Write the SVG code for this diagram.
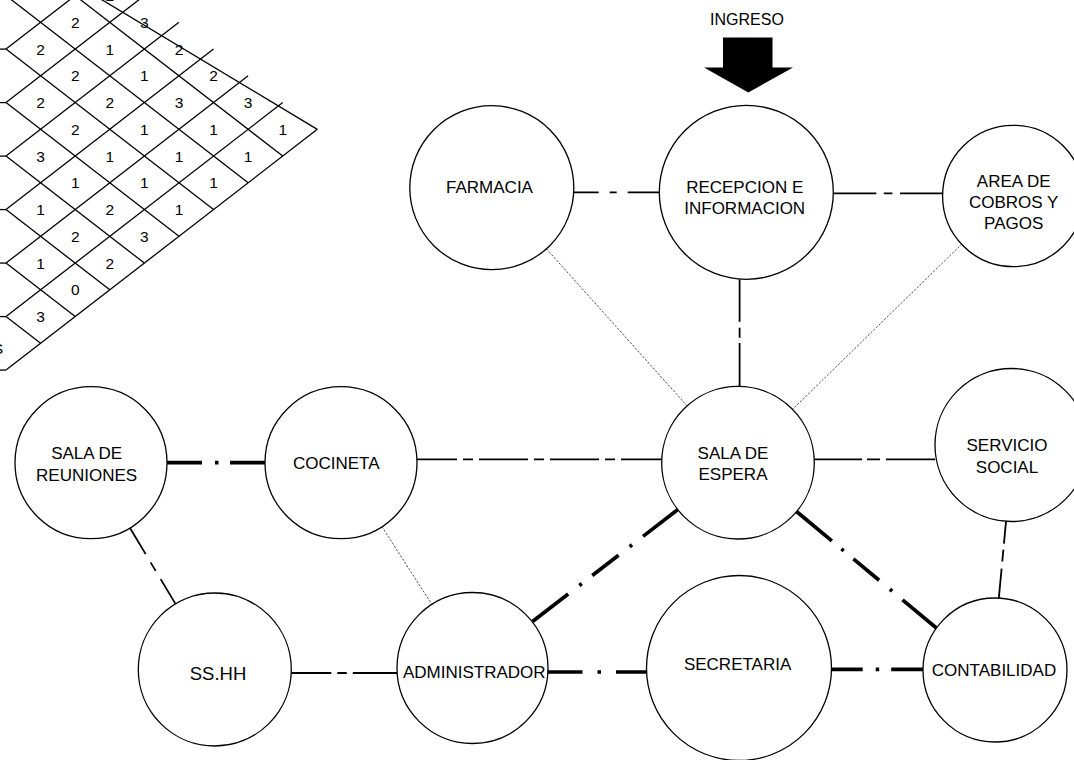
<svg xmlns="http://www.w3.org/2000/svg" width="1074" height="760" viewBox="0 0 1074 760">
<style>
  .bg{fill:#fff}
  .mx line{stroke:#000;stroke-width:1.3;fill:none}
  .num{font-family:"Liberation Sans",Arial,sans-serif;font-size:15.5px;text-anchor:middle;fill:#000}
  .node circle{fill:#fff;stroke:#000;stroke-width:1.3}
  .node text,.lbl{font-family:"Liberation Sans",Arial,sans-serif;font-size:17px;text-anchor:middle;fill:#000}
  .conn path{fill:none;stroke:#000;stroke-linecap:butt}
  .thin{stroke-width:0.7;stroke-dasharray:2.2 1.6}
  .med{stroke-width:1.8}
  .thick{stroke-width:3.7}
</style>
<rect class="bg" x="0" y="0" width="1074" height="760"/>

<g id="matrix" class="mx">
  <line x1="6" y1="-57.92" x2="317.31" y2="129.33"/>
  <line x1="6" y1="-57.92" x2="282.72" y2="156.08"/>
  <line x1="6" y1="-4.42" x2="248.13" y2="182.83"/>
  <line x1="6" y1="49.08" x2="213.54" y2="209.58"/>
  <line x1="6" y1="102.58" x2="178.95" y2="236.33"/>
  <line x1="6" y1="156.08" x2="144.36" y2="263.08"/>
  <line x1="6" y1="209.58" x2="109.77" y2="289.83"/>
  <line x1="6" y1="263.08" x2="75.18" y2="316.58"/>
  <line x1="6" y1="316.58" x2="40.59" y2="343.33"/>
  <line x1="6" y1="370.08" x2="317.31" y2="129.33"/>
  <line x1="6" y1="316.58" x2="282.72" y2="102.58"/>
  <line x1="6" y1="263.08" x2="248.13" y2="75.83"/>
  <line x1="6" y1="209.58" x2="213.54" y2="49.08"/>
  <line x1="6" y1="156.08" x2="178.95" y2="22.33"/>
  <line x1="6" y1="102.58" x2="144.36" y2="-4.42"/>
  <line x1="6" y1="49.08" x2="109.77" y2="-31.17"/>
  <line x1="6" y1="-4.42" x2="75.18" y2="-57.92"/>
  <line x1="0" y1="-4.42" x2="6" y2="-4.42"/>
  <line x1="0" y1="49.08" x2="6" y2="49.08"/>
  <line x1="0" y1="102.58" x2="6" y2="102.58"/>
  <line x1="0" y1="156.08" x2="6" y2="156.08"/>
  <line x1="0" y1="209.58" x2="6" y2="209.58"/>
  <line x1="0" y1="263.08" x2="6" y2="263.08"/>
  <line x1="0" y1="316.58" x2="6" y2="316.58"/>
  <line x1="0" y1="370.08" x2="6" y2="370.08"/>
  <text class="num" x="109.8" y="1.2">2</text>
  <text class="num" x="75.2" y="27.9">2</text>
  <text class="num" x="144.4" y="27.9">3</text>
  <text class="num" x="40.6" y="54.7">2</text>
  <text class="num" x="109.8" y="54.7">1</text>
  <text class="num" x="179" y="54.7">2</text>
  <text class="num" x="75.2" y="81.4">2</text>
  <text class="num" x="144.4" y="81.4">1</text>
  <text class="num" x="213.5" y="81.4">2</text>
  <text class="num" x="40.6" y="108.2">2</text>
  <text class="num" x="109.8" y="108.2">2</text>
  <text class="num" x="179" y="108.2">3</text>
  <text class="num" x="248.1" y="108.2">3</text>
  <text class="num" x="75.2" y="134.9">2</text>
  <text class="num" x="144.4" y="134.9">1</text>
  <text class="num" x="213.5" y="134.9">1</text>
  <text class="num" x="282.7" y="134.9">1</text>
  <text class="num" x="40.6" y="161.7">3</text>
  <text class="num" x="109.8" y="161.7">1</text>
  <text class="num" x="179" y="161.7">1</text>
  <text class="num" x="248.1" y="161.7">1</text>
  <text class="num" x="75.2" y="188.4">1</text>
  <text class="num" x="144.4" y="188.4">1</text>
  <text class="num" x="213.5" y="188.4">1</text>
  <text class="num" x="40.6" y="215.2">1</text>
  <text class="num" x="109.8" y="215.2">2</text>
  <text class="num" x="179" y="215.2">1</text>
  <text class="num" x="75.2" y="241.9">2</text>
  <text class="num" x="144.4" y="241.9">3</text>
  <text class="num" x="40.6" y="268.7">1</text>
  <text class="num" x="109.8" y="268.7">2</text>
  <text class="num" x="75.2" y="295.4">0</text>
  <text class="num" x="40.6" y="322.2">3</text>
  <text class="num" x="3" y="354" style="text-anchor:end">S</text>
</g>

<g id="ingreso">
  <text class="lbl" x="747" y="25" style="font-size:16px">INGRESO</text>
  <polygon points="723,37.5 772.5,37.5 772.5,67.5 793,67.5 748.3,92.5 704,67.5 723,67.5" fill="#000"/>
</g>

<g id="connectors" class="conn">
  <path class="med" d="M573.7 192.3 H659" stroke-dasharray="25 11 7 11 31.3"/>
  <path class="med" d="M833.4 193.3 H942.6" stroke-dasharray="42.9 7.5 8.6 7.6 42.6"/>
  <path class="med" d="M739.6 279.3 V386.7" stroke-dasharray="42.4 6 10 5.3 43.7"/>
  <path class="thin" d="M546.4 248.8 L687.3 406.1"/>
  <path class="thin" d="M962 243.9 L792.3 409.6"/>
  <path class="thick" d="M167 462.7 H265" stroke-dasharray="35 13 3.5 11.5 35"/>
  <path class="med" d="M417 459.3 H662" stroke-dasharray="40 6 10 6 49 6 10 6 49 6 10 6 41"/>
  <path class="med" d="M814 459.3 H935" stroke-dasharray="48 5 13 6 49"/>
  <path class="med" d="M1006 521.7 L998.7 599.3" stroke-dasharray="22 6 12 7 31"/>
  <path class="med" d="M130 528 L175.5 603.9" stroke-dasharray="30.5 9.6 9.9 9.6 28.9"/>
  <path class="thin" d="M382 526.7 L431.8 604.4"/>
  <path class="med" d="M291.3 673 H397" stroke-dasharray="40 6 9.5 6 44.2"/>
  <path class="thick" d="M547.5 672 H646.5" stroke-dasharray="35 15 3.5 15 30.5"/>
  <path class="thick" d="M831 669.3 H923" stroke-dasharray="31.7 13 3.5 12 31.8"/>
  <path class="thick" d="M677.9 509.5 L532.5 621.5" stroke-dasharray="44 13.9 3 14 33.2 13.3 3 14.1 45"/>
  <path class="thick" d="M796.5 511.5 L937 628.5" stroke-dasharray="46 12.5 3 12.5 33.5 14 3 13.5 44.8"/>
</g>

<g id="farmacia" class="node">
  <circle cx="491.8" cy="187.7" r="82"/>
  <text x="489.5" y="192.7">FARMACIA</text>
</g>
<g id="recepcion" class="node">
  <circle cx="746.3" cy="192.3" r="87"/>
  <text x="744.7" y="192.7">RECEPCION E</text>
  <text x="744.7" y="213.5">INFORMACION</text>
</g>
<g id="area-cobros" class="node">
  <circle cx="1013.3" cy="196" r="70.7"/>
  <text x="1013.7" y="186.7">AREA DE</text>
  <text x="1013.7" y="207.5">COBROS Y</text>
  <text x="1013.7" y="229.3">PAGOS</text>
</g>
<g id="sala-espera" class="node">
  <circle cx="738" cy="462.7" r="76.3"/>
  <text x="733" y="459.3">SALA DE</text>
  <text x="733" y="480.3">ESPERA</text>
</g>
<g id="servicio-social" class="node">
  <circle cx="1011.5" cy="445" r="76.5"/>
  <text x="1007" y="450.7">SERVICIO</text>
  <text x="1007" y="473.3">SOCIAL</text>
</g>
<g id="sala-reuniones" class="node">
  <circle cx="91" cy="462.7" r="76"/>
  <text x="86.6" y="459.3">SALA DE</text>
  <text x="86.6" y="480.7">REUNIONES</text>
</g>
<g id="cocineta" class="node">
  <circle cx="341" cy="462.7" r="76"/>
  <text x="336.3" y="469.3">COCINETA</text>
</g>
<g id="sshh" class="node">
  <circle cx="214.8" cy="669.5" r="76.5"/>
  <text x="218" y="680" style="font-size:18.5px">SS.HH</text>
</g>
<g id="administrador" class="node">
  <circle cx="472.5" cy="668" r="75.5"/>
  <text x="474.3" y="678.3">ADMINISTRADOR</text>
</g>
<g id="secretaria" class="node">
  <circle cx="739" cy="668" r="92.5"/>
  <text x="737.6" y="670">SECRETARIA</text>
</g>
<g id="contabilidad" class="node">
  <circle cx="995" cy="670" r="72"/>
  <text x="994" y="676">CONTABILIDAD</text>
</g>
</svg>
